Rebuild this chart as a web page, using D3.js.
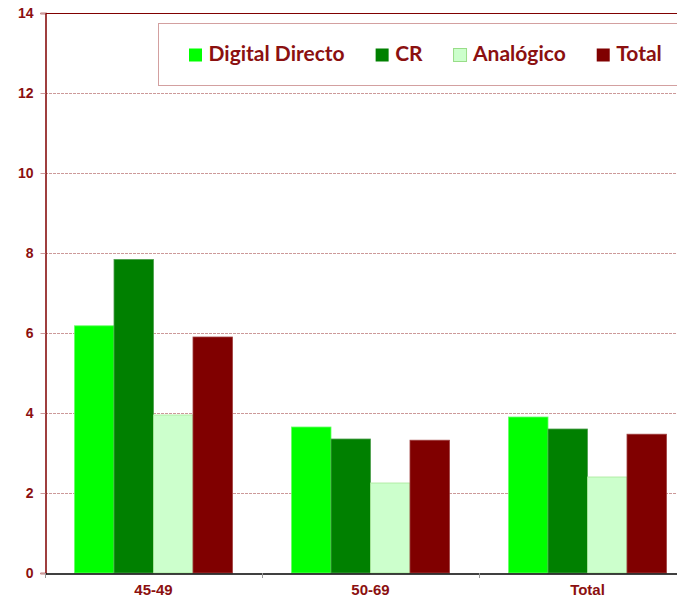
<!DOCTYPE html>
<html>
<head>
<meta charset="utf-8">
<script src="https://cdn.jsdelivr.net/npm/d3@7"></script>
<style>
  body { margin: 0; background: #fff; }
  svg { display: block; }
</style>
</head>
<body>
<div id="chart"></div>
<script>
const categories = ['45-49', '50-69', 'Total'];
const seriesNames = ['Digital Directo', 'CR', 'Analógico', 'Total'];
const digitalDirecto = [6.18, 3.65, 3.9];
const cr = [7.84, 3.35, 3.6];
const analogico = [3.95, 2.25, 2.4];
const total = [5.9, 3.32, 3.47];
const yTicks = [0, 2, 4, 6, 8, 10, 12, 14];

const colors = ['#00ff00', '#008000', '#ccffcc', '#800000'];
const strokes = ['#66ff66', '#4d9f4d', '#a8e89a', '#a04040'];
const textColor = '#8b1010';

const width = 677;
const height = 602;
const margin = { top: 13, right: -19, bottom: 29, left: 45 };

const series = [digitalDirecto, cr, analogico, total];
const rows = [];
categories.forEach((c, i) => {
  seriesNames.forEach((s, j) => rows.push({ cat: c, key: j, value: series[j][i] }));
});

const svg = d3.select('#chart').append('svg')
  .attr('width', width)
  .attr('height', height);

const x0 = d3.scaleBand()
  .domain(categories)
  .range([margin.left, width - margin.right]);

const x1 = d3.scaleBand()
  .domain(d3.range(seriesNames.length))
  .range([0, x0.bandwidth()])
  .paddingOuter(0.747);

const y = d3.scaleLinear()
  .domain([0, 14])
  .range([height - margin.bottom, margin.top]);

// gridlines
svg.append('g')
  .selectAll('line')
  .data(yTicks.filter((d) => d > 0 && d < 14))
  .join('line')
  .attr('x1', margin.left)
  .attr('x2', width - margin.right)
  .attr('y1', (d) => y(d) + 0.5)
  .attr('y2', (d) => y(d) + 0.5)
  .attr('stroke', '#cc9999')
  .attr('stroke-dasharray', '3,1');

// top border
svg.append('line')
  .attr('x1', margin.left)
  .attr('x2', width - margin.right)
  .attr('y1', y(14) + 0.5)
  .attr('y2', y(14) + 0.5)
  .attr('stroke', '#800000');

// bars
svg.append('g')
  .selectAll('rect')
  .data(rows)
  .join('rect')
  .attr('x', (d) => x0(d.cat) + x1(d.key))
  .attr('y', (d) => y(d.value))
  .attr('width', x1.bandwidth())
  .attr('height', (d) => y(0) - y(d.value))
  .attr('fill', (d) => colors[d.key])
  .attr('stroke', (d) => strokes[d.key])
  .attr('stroke-width', 0.8);

// y axis
const yAxis = svg.append('g')
  .attr('transform', `translate(${margin.left + 0.5},0)`)
  .call(d3.axisLeft(y).tickValues(yTicks).tickSize(5).tickPadding(7));
yAxis.select('.domain').attr('stroke', '#800000').attr('stroke-width', 1.5);
yAxis.selectAll('.tick line').attr('stroke', '#c99');
yAxis.selectAll('text')
  .attr('fill', textColor)
  .style('font', 'bold 14px "Liberation Sans", Arial, sans-serif');

// x axis
const xAxis = svg.append('g')
  .attr('transform', `translate(0,${y(0) + 0.5})`)
  .call(d3.axisBottom(x0).tickSize(0).tickPadding(11));
xAxis.select('.domain').attr('stroke', '#000').attr('stroke-width', 1.5);
xAxis.selectAll('text')
  .attr('fill', textColor)
  .style('font', 'bold 15px "Liberation Sans", Arial, sans-serif');

svg.append('g')
  .selectAll('line')
  .data(categories)
  .join('line')
  .attr('x1', (d) => x0(d) + 0.5)
  .attr('x2', (d) => x0(d) + 0.5)
  .attr('y1', y(0))
  .attr('y2', y(0) + 5)
  .attr('stroke', '#999');

// legend
const legend = svg.append('g');
legend.append('rect')
  .attr('x', 158.5)
  .attr('y', 23.5)
  .attr('width', 560)
  .attr('height', 62)
  .attr('fill', '#fff')
  .attr('stroke', '#d3a0a0');

let lx = 189;
seriesNames.forEach((name, i) => {
  legend.append('rect')
    .attr('x', lx)
    .attr('y', 48.5)
    .attr('width', 13)
    .attr('height', 13)
    .attr('fill', colors[i])
    .attr('stroke', i === 2 ? '#99dd88' : 'none');
  const t = legend.append('text')
    .attr('x', lx + 19.5)
    .attr('y', 61)
    .attr('fill', textColor)
    .style('font', 'bold 21px Lato, "Open Sans", sans-serif')
    .text(name);
  lx += 19.5 + t.node().getComputedTextLength() + 31;
});
</script>
</body>
</html>
